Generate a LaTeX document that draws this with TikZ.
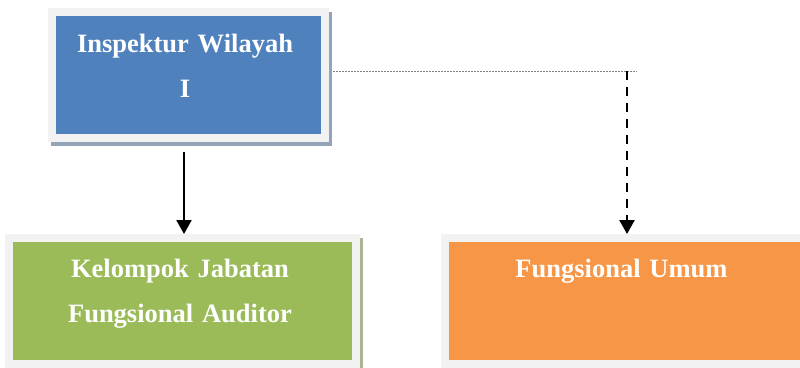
\documentclass[tikz,border=0pt]{standalone}
\usepackage{fontspec}
\setmainfont{Liberation Serif}
\usepackage{xcolor}
\usepackage{tikz}
\usetikzlibrary{arrows.meta,shadows}
\usetikzlibrary{calc}
\usetikzlibrary{positioning}

\definecolor{itblue}{HTML}{4F81BD}
\definecolor{itgreen}{HTML}{9BBB59}
\definecolor{itorange}{HTML}{F79646}
\definecolor{framegray}{HTML}{F2F2F2}
\definecolor{blueshade}{HTML}{95A3B8}
\definecolor{greenshade}{HTML}{A9B593}
\definecolor{orangeshade}{HTML}{BFAE9E}

\begin{document}
\begin{tikzpicture}[x=1pt,y=-1pt,>={Triangle[width=15pt,length=14pt]},semithick]
 				 \tikzstyle{unit}=[draw=framegray, line width=8pt, minimum height=126pt, inner sep=0pt]
 				 \tikzstyle{shade}=[general shadow={draw=#1, fill=#1, line width=8pt, shadow xshift=3pt, shadow yshift=-4pt}]
 				 \tikzstyle{unittext}=[text=white, font=\fontsize{26.5}{45}\selectfont\bfseries, text width=340pt, align=center, anchor=base, inner sep=0pt]
 				 \useasboundingbox (0,0) rectangle (800,367);
 					 \node[unit, shade=blueshade, fill=itblue, minimum width=273pt] 			(itwil) at (188.5,75) {};
  					 \node[unit, shade=greenshade, fill=itgreen, minimum width=347pt]         (kjfa) at (182.5,301) {};
  					 \node[unit, shade=orangeshade, fill=itorange, minimum width=370pt]         (fu) at (630,301) {};
  					 \node[unittext] (itwil-t) at ([xshift=-3.5pt,yshift=-44pt]itwil.north) {Inspektur Wilayah\\ I};
  					 \node[unittext] (kjfa-t) at ([xshift=-2.5pt,yshift=-43pt]kjfa.north) {Kelompok Jabatan\\ Fungsional Auditor};
  					 \node[unittext] (fu-t) at ([xshift=-8.5pt,yshift=-43pt]fu.north) {Fungsional Umum};
  					 \coordinate (bend) at (627,71);
  					 \coordinate (dotend) at (637,71);
 					  \draw[->, line width=2pt] ([xshift=-4.5pt,yshift=-10pt]itwil.south) -- ([xshift=-4.5pt]itwil.south |- kjfa.north);
 					  \draw[gray, line width=1pt, dash pattern=on 1.5pt off 1.5pt] ([xshift=4pt]itwil.east |- bend) -- (dotend);
 					  \draw[->, line width=2.5pt, dash pattern=on 9pt off 7pt] (bend) -- (bend |- fu.north);
				\end{tikzpicture}
\end{document}
